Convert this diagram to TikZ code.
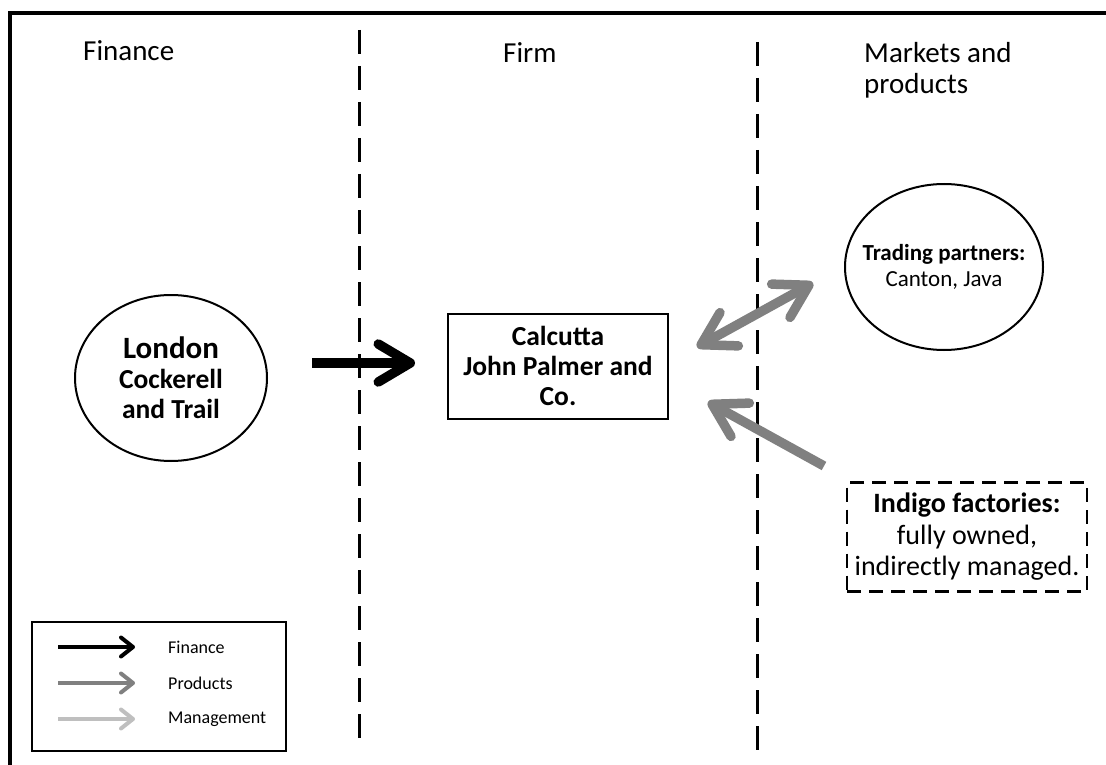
\documentclass[tikz,border=0pt]{standalone}
\usepackage{fontspec}
\setmainfont{Carlito}
\usetikzlibrary{arrows.meta,shapes.geometric,positioning}
\definecolor{prodgray}{RGB}{128,128,128}
\definecolor{mgmtgray}{RGB}{191,191,191}

\begin{document}
\begin{tikzpicture}[x=1pt,y=-1pt,inner sep=0pt,
    head/.style={font=\fontsize{29}{31}\selectfont},
    bigflow/.style={line width=9.5pt,-{Straight Barb[round,length=32pt,width=38pt]}},
    twoflow/.style={line width=9.5pt,{Straight Barb[round,length=32pt,width=38pt]}-{Straight Barb[round,length=32pt,width=38pt]}},
    keyflow/.style={line width=4pt,-{Straight Barb[round,length=12pt,width=19pt]}},
    divider/.style={line width=3pt,dash pattern=on 24pt off 12pt},
    place/.style={ellipse,draw,line width=2pt,align=center},
    keytext/.style={anchor=west,font=\fontsize{18}{20}\selectfont}]
    \useasboundingbox (0,0) rectangle (1106,765);
    \draw[line width=4pt] (10,765) -- (10,13) -- (1106,13);
    \draw[divider] (359,30) -- (359,745);
    \draw[divider] (757,42) -- (757,760);

    \node[head,anchor=west] (finhead) at (83,51) {Finance};
    \node[head,anchor=west] (firmhead) at (503,53) {Firm};
    \node[head,anchor=west,align=left] (mkthead) at (864,70) {Markets and\\products};

    \node[place,minimum width=192pt,minimum height=166pt,
        font=\bfseries\fontsize{27.5}{30}\selectfont] (london) at (171,378)
        {{\fontsize{31}{30}\selectfont London}\\Cockerell\\and Trail};
    \node[draw,line width=2pt,minimum width=220pt,minimum height=105pt,align=center,
        font=\bfseries\fontsize{27.5}{30}\selectfont] (calcutta) at (558,366)
        {Calcutta\\John Palmer and\\Co.};
    \node[place,minimum width=198pt,minimum height=166pt] (trade) at (944,267) {};
    \node[align=center,font=\fontsize{23}{26.5}\selectfont] (tradetext) at (trade)
        {\textbf{Trading partners:}\\Canton, Java};
    \node[draw,line width=2.5pt,dash pattern=on 14pt off 8pt,minimum width=240pt,
        minimum height=109pt,align=center,font=\fontsize{28}{31.5}\selectfont] (indigo) at (967,537)
        {\textbf{Indigo factories:}\\fully owned,\\indirectly managed.};

    \coordinate (fina) at (312,363);
    \coordinate (finb) at (415,363);
    \coordinate (tradea) at (697,347);
    \coordinate (tradeb) at (813,283);
    \coordinate (indigoa) at (824,466);
    \coordinate (indigob) at (708,402);
    \draw[bigflow] (fina) -- (finb);
    \draw[twoflow,prodgray] (tradea) -- (tradeb);
    \draw[bigflow,prodgray] (indigoa) -- (indigob);

    \node[draw,line width=2.5pt,minimum width=254pt,minimum height=129pt] (legend) at (159,686.5) {};
    \node[keytext] (keyfin) at (168,647) {Finance};
    \node[keytext] (keyprod) at (168,683) {Products};
    \node[keytext] (keymgmt) at (168,719) {Management};
    \coordinate[left=33pt of keyfin.west] (keyfinb);
    \coordinate[left=77pt of keyfinb] (keyfina);
    \coordinate[left=33pt of keyprod.west] (keyprodb);
    \coordinate[left=77pt of keyprodb] (keyproda);
    \coordinate[left=33pt of keymgmt.west] (keymgmtb);
    \coordinate[left=77pt of keymgmtb] (keymgmta);
    \draw[keyflow] (keyfina) -- (keyfinb);
    \draw[keyflow,prodgray] (keyproda) -- (keyprodb);
    \draw[keyflow,mgmtgray] (keymgmta) -- (keymgmtb);
\end{tikzpicture}
\end{document}
